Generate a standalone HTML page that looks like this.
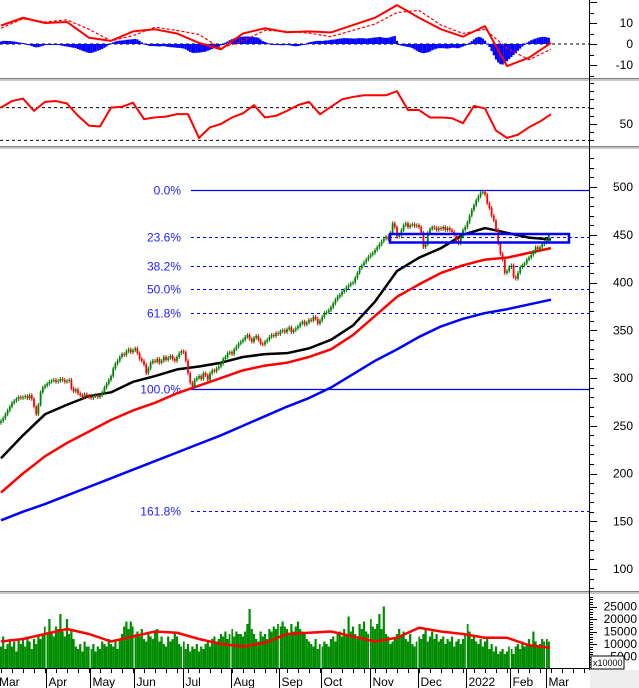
<!DOCTYPE html>
<html><head><meta charset="utf-8"><style>
html,body{margin:0;padding:0;background:#fff;}
svg{display:block;font-family:"Liberation Sans",sans-serif;}
polyline{stroke-linejoin:round;}
</style></head><body>
<svg id="chart" width="639" height="688" viewBox="0 0 639 688" xmlns="http://www.w3.org/2000/svg">
<rect x="0" y="0" width="639" height="688" fill="#fff"/>
<rect x="590" y="670" width="49" height="18" fill="#eeeeee"/>
<g id="grid"></g><g id="marks"></g><g id="axes"></g>
</svg>
<script>
// ---- data ----
const closes = [
255,258,262,266,270,274,276,278,280,279,
280,281,279,282,278,270,262,272,285,290,
292,294,296,297,298,296,297,299,298,296,
297,298,289,286,288,284,282,280,283,281,
280,279,281,282,280,282,285,290,294,298,
302,310,315,318,322,325,324,328,330,327,
329,331,326,320,318,314,305,310,316,318,
317,320,316,318,322,319,321,323,320,318,
322,326,328,327,318,305,295,291,298,300,
302,299,305,303,298,305,308,307,310,312,
315,320,322,326,327,325,330,333,336,338,
340,343,345,341,338,342,344,340,336,335,
338,340,343,345,344,347,346,349,350,348,
351,353,348,350,352,354,357,359,356,358,
361,360,364,362,357,360,364,368,369,371,
374,378,382,385,387,390,392,395,397,399,
400,405,410,415,418,421,424,427,429,431,
434,437,440,443,446,448,445,452,462,458,
448,450,455,460,462,458,460,461,459,460,
458,452,437,440,452,456,458,457,455,457,
456,458,455,457,455,453,450,444,441,448,
455,458,463,470,476,481,486,490,494,495,
492,483,478,470,465,455,441,430,424,410,
412,416,418,406,404,410,416,418,420,424,
426,429,432,437,435,437,440,442,445,450];
const volumes = [
9000,13000,8000,10000,12000,9000,11000,7000,12000,10000,
12000,9000,13000,11000,8000,12000,10000,13000,12000,14000,
17000,14000,20000,15000,13000,17000,16000,22000,15000,13000,
20000,14000,16000,12000,9000,8000,10000,7000,11000,9000,
9000,8000,10000,7000,9000,8000,11000,10000,9000,12000,
10000,9000,11000,8000,12000,14000,17000,19000,16000,19000,
17000,14000,15000,13000,16000,12000,11000,14000,13000,12000,
15000,16000,11000,13000,10000,9000,13000,11000,12000,15000,
13000,10000,9000,11000,8000,10000,7000,9000,8000,10000,
7000,9000,8000,10000,11000,9000,12000,13000,11000,12000,
14000,13000,15000,12000,14000,16000,13000,15000,14000,14000,
13000,15000,18000,24000,16000,14000,12000,11000,15000,13000,
14000,12000,16000,15000,17000,16000,18000,17000,19000,17000,
16000,14000,18000,15000,17000,19000,16000,15000,14000,12000,
11000,10000,9000,12000,8000,10000,9000,11000,10000,9000,
12000,13000,11000,14000,15000,13000,16000,14000,21000,15000,
17000,14000,12000,18000,16000,19000,15000,14000,20000,17000,
16000,18000,22000,16000,25000,14000,13000,10000,11000,12000,
14000,16000,13000,15000,12000,11000,14000,10000,9000,11000,
13000,12000,14000,16000,11000,13000,15000,12000,14000,11000,
12000,13000,10000,12000,11000,13000,9000,11000,12000,10000,
12000,14000,18000,15000,12000,13000,11000,10000,12000,9000,
11000,12000,8000,10000,7000,9000,6000,7000,8000,6000,
7000,9000,8000,6000,9000,10000,8000,11000,9000,10000,
12000,9000,15000,11000,9000,10000,12000,11000,12000,11000];
const hist = [
1.2,1.5,1.5,1.4,1.4,1.3,1.2,1,0.8,0.6,
0.5,0.3,0,-0.6,-1,-1.4,-1.6,-1.5,-1.2,-0.9,
-0.5,-0.3,-0.2,-0.1,-0.3,-0.2,-0.3,-0.6,-0.9,-1.1,
-1.2,-1.4,-1.6,-1.8,-2,-2.4,-2.8,-3.2,-3.6,-4,
-4.2,-4.3,-4,-3.6,-3.2,-2.8,-2.4,-1.8,-1.2,-0.4,
0.3,0.8,1.2,1.5,1.6,1.7,1.8,2,2.1,2.2,
2.3,2.4,2.2,1.5,0.8,0.2,-0.4,-0.8,-1,-1,
-1,-1.1,-1.2,-1.1,-1,-1.2,-1.4,-1.5,-1.6,-1.7,
-1.8,-1.9,-2,-2.2,-2.6,-3.2,-3.8,-4.2,-4.3,-4.2,
-4.1,-4,-3.8,-3.6,-3.2,-2.8,-2.4,-2,-1.6,-1.2,
-0.6,0,0.6,1.2,1.8,2.3,2.7,3,3.2,3.4,
3.5,3.6,3.6,3.5,3.4,3.3,3.2,3,2.2,1.4,
1,0.6,0.3,0,-0.2,-0.4,-0.5,-0.6,-0.6,-0.5,
-0.5,-0.6,-0.8,-1,-1.1,-1,-0.8,-0.4,0,0.4,
0.8,1,1.2,1.4,1.5,1.5,1.4,1.6,1.7,1.8,
2,2.1,2.2,2.4,2.6,2.7,2.8,2.8,2.7,2.7,
2.6,2.6,2.7,2.8,2.8,2.7,2.6,2.7,2.8,3,
3.1,3.2,3.4,3.2,3,2.9,3,3.2,3.6,3.8,
1.5,-0.5,-0.8,-1,-1.2,-1.4,-1.6,-2,-2.6,-3.2,
-3.8,-4.2,-4.4,-4.2,-4,-3.6,-3,-2.6,-2.2,-2,
-2,-2,-2.1,-2.2,-2,-1.8,-1.8,-2,-2,-1.6,
-1.2,-0.8,-0.2,0.6,1.4,2.2,3,3.4,3.2,2.6,
1.6,0.2,-1.4,-3.4,-5.4,-7.4,-8.8,-9.6,-9.8,-9.2,
-8.2,-7.2,-6.2,-5.2,-4.2,-3.2,-2.2,-1.2,-0.2,0.6,
1.2,1.8,2.2,2.6,3,3.2,3.4,3.4,3.2,3];
// sampled every 10 bars
const ma50 = [216,240,262,272,281,285,296,302,309,312,316,322,325,326,331,340,355,380,412,426,436,450,457,452,447,445];
const ma100 = [180,200,218,232,244,256,266,274,284,292,300,308,313,316,322,330,345,365,385,398,410,418,424,426,431,436];
const ma200 = [151,160,168,177,186,195,204,213,222,231,240,250,260,270,279,290,304,318,330,343,354,362,368,372,377,382];
const macdLine = [8.8,12.5,10,10.5,3,1.5,6,7,5,0.5,-2.5,5,7.5,5.6,6,5.5,9,12.5,18.5,12.5,7,3.5,8.5,-10.5,-6.5,0.5];
const signalLine = [7.5,12,10.5,11.5,7,1.5,4,8,6.5,4.5,-2,1.5,6.5,6,5.2,3.5,6.5,9.5,15,16,9,5,7,-2,-7.5,-2.5];
const volMA = [11000,12000,14000,16000,14000,11000,13000,15000,14500,12000,10000,9000,10500,14000,14500,15000,13000,11000,12500,16500,15000,14000,12500,12500,9500,8500];
// sampled every 5 bars
const rsi = [70,78,81,66,77,78,75,60,48,47,70,71,76,56,58,59,62,62,33,46,50,58,63,73,58,60,66,73,77,62,71,80,83,85,85,85,90,67,67,58,58,57,51,72,69,42,33,37,46,53,62];
const fibPct = ["0.0%","23.6%","38.2%","50.0%","61.8%","100.0%","161.8%"];
const fibRatio = [0,0.236,0.382,0.5,0.618,1,1.618];
const fibHigh = 497, fibLow = 289;
const priceTicks = [500,450,400,350,300,250,200,150,100];
const macdTicks = [10,0,-10];
const volTicks = [25000,20000,15000,10000,5000];
const months = ["Mar","Apr","May","Jun","Jul","Aug","Sep","Oct","Nov","Dec","2022","Feb","Mar"];
const monthStartBar = [0,21,41,61,83,105,127,146,168,190,212,232,248];

// ---- scales ----
const xb = i => 1 + i*2.2;
const yP = v => 187 + (500 - v)*0.955;
const yM = v => 44 - v*2.1;
const yR = r => 124 - (r-50)*0.82;
const yV = v => 669 - v*0.0025;
const NS = "http://www.w3.org/2000/svg";
const G = document.getElementById('grid'), M = document.getElementById('marks'), A = document.getElementById('axes');
function mk(parent, tag, attrs){const e=document.createElementNS(NS,tag);for(const k in attrs)e.setAttribute(k,attrs[k]);parent.appendChild(e);return e;}

// separators
[[78,'macd-rsi-separator'],[146,'rsi-price-separator'],[591,'price-volume-separator']].forEach(s=>{
  let r = mk(A,'rect',{x:0,y:s[0],width:639,height:3,fill:'#c8c8c8'});
  
  
  let l = mk(A,'line',{x1:0,x2:639,y1:s[0]+0.5,y2:s[0]+0.5,stroke:'#808080'});
  
  
});

// dashed reference lines
[[yM(0),'macd-zero-line'],[yR(70),'rsi-70-line'],[yR(30),'rsi-30-line']].forEach(d=>{
  let l = mk(G,'line',{x1:0,x2:589,y1:d[0],y2:d[0],stroke:'#000','stroke-dasharray':'3,3'});
  
  
});

// fib levels
fibRatio.forEach((r,k)=>{
  const v = fibHigh - (fibHigh-fibLow)*r;
  const y = Math.round(yP(v))+0.5;
  const solid = (r===0||r===1);
  let l = mk(G,'line',{x1:191,x2:589,y1:y,y2:y,stroke:'#0000ff','stroke-width':solid?1.3:1,'stroke-dasharray':solid?'none':'3,3'});
  
  
  let t = mk(G,'text',{x:181,y:y+4,'text-anchor':'end','font-size':12,fill:'#2222ff'});
  t.textContent = fibPct[k];
  
  
});

// volume bars
volumes.forEach((v,i)=>{
  let r = mk(M,'rect',{x:xb(i)-1.1,y:yV(v),width:2.2,height:669-yV(v),fill:'#008c00'});
  
  
});
monthStartBar.slice(1).forEach((b,k)=>{
  let l = mk(M,'line',{x1:xb(b)-1.1,x2:xb(b)-1.1,y1:594,y2:668,stroke:'#fff','stroke-width':1});
  
  
});
let vma = mk(M,'polyline',{points:volMA.map((v,k)=>Math.min(xb(k*10),550)+','+yV(v)).join(' '),fill:'none',stroke:'#ff0000','stroke-width':2.5});



// MACD histogram
hist.forEach((h,i)=>{
  const y0=yM(0), y1=yM(h);
  let r = mk(M,'rect',{x:xb(i)-1.1,y:Math.min(y0,y1),width:2.2,height:Math.max(1,Math.abs(y1-y0)),fill:'#0000ff'});
  
  
});
let sig = mk(M,'polyline',{points:signalLine.map((v,k)=>xb(k*10)+','+yM(v)).join(' '),fill:'none',stroke:'#ff0000','stroke-width':1.2,'stroke-dasharray':'3,2'});


let mac = mk(M,'polyline',{points:macdLine.map((v,k)=>xb(k*10)+','+yM(v)).join(' '),fill:'none',stroke:'#ff0000','stroke-width':2});



// RSI
let rl = mk(M,'polyline',{points:rsi.map((v,k)=>xb(k*5)+','+yR(v)).join(' '),fill:'none',stroke:'#ff0000','stroke-width':2});



// MAs
[[ma200,'#0000ff','ma200-line'],[ma100,'#ff0000','ma100-line'],[ma50,'#000000','ma50-line']].forEach(m=>{
  let p = mk(M,'polyline',{points:m[0].map((v,k)=>xb(k*10)+','+yP(v)).join(' '),fill:'none',stroke:m[1],'stroke-width':2.5});
  
  
});

// candles
closes.forEach((c,i)=>{
  const o = i>0?closes[i-1]:c-2;
  const up = c>=o;
  const col = up?'#008000':'#ff0000';
  const hi = Math.max(o,c)+2, lo = Math.min(o,c)-2;
  let w = mk(M,'line',{x1:xb(i),x2:xb(i),y1:yP(hi),y2:yP(lo),stroke:col,'stroke-width':1});
  
  
  let b = mk(M,'rect',{x:xb(i)-0.9,y:yP(Math.max(o,c)),width:1.8,height:Math.max(1,Math.abs(yP(o)-yP(c))),fill:col});
  
  
});

// highlight box
let box = mk(M,'rect',{x:390,y:234,width:179,height:8.5,fill:'none',stroke:'#0000ff','stroke-width':2.5});



// right axis
let ax = mk(A,'line',{x1:589.5,x2:589.5,y1:0,y2:670,stroke:'#000'});


for(let v=80; v<=540; v+=10){
  const y=Math.round(yP(v))+0.5; if(y<152||y>589) continue;
  let t = mk(A,'line',{x1:589,x2:v%50===0?597:594,y1:y,y2:y,stroke:'#000'});
  
  
}
priceTicks.forEach(v=>{
  let t = mk(A,'text',{x:633,y:yP(v)+4,'text-anchor':'end','font-size':12,fill:'#000'});
  t.textContent = v;
  
  
});
for(let v=-15; v<=20; v+=5){
  const y=Math.round(yM(v))+0.5; if(y<1||y>77) continue;
  let t = mk(A,'line',{x1:589,x2:v%10===0?597:594,y1:y,y2:y,stroke:'#000'});
  
  
}
macdTicks.forEach(v=>{
  let t = mk(A,'text',{x:633,y:yM(v)+4,'text-anchor':'end','font-size':12,fill:'#000'});
  t.textContent = v;
  
  
});
for(let r=10; r<=110; r+=10){
  const y=Math.round(yR(r))+0.5; if(y<82||y>145) continue;
  let t = mk(A,'line',{x1:589,x2:r===50?597:594,y1:y,y2:y,stroke:'#000'});
  
  
}
let r50 = mk(A,'text',{x:633,y:yR(50)+4,'text-anchor':'end','font-size':12,fill:'#000'});
r50.textContent = '50';


for(let v=1000; v<=29000; v+=1000){
  const y=Math.round(yV(v))+0.5; if(y<596||y>668) continue;
  let t = mk(A,'line',{x1:589,x2:v%5000===0?597:593,y1:y,y2:y,stroke:'#000'});
  
  
}
volTicks.forEach(v=>{
  let t = mk(A,'text',{x:637,y:yV(v)+4,'text-anchor':'end','font-size':12,fill:'#000'});
  t.textContent = v;
  
  
});
let ub = mk(A,'rect',{x:591,y:656,width:33,height:13,fill:'#fff',stroke:'#000'});


let ut = mk(A,'text',{x:593,y:666,'font-size':9,fill:'#000'});
ut.textContent = 'x10000';



// bottom axis
let bx = mk(A,'line',{x1:0,x2:589,y1:668.5,y2:668.5,stroke:'#000'});


for(let i=0;i<=270;i+=5){
  const x=Math.round(xb(i))+0.5; if(x>588) break;
  let t = mk(A,'line',{x1:x,x2:x,y1:668,y2:673,stroke:'#000'});
  
  
}
months.forEach((m,k)=>{
  const x = Math.round(xb(monthStartBar[k])-1.1)+0.5;
  if(k>0){
    let l = mk(A,'line',{x1:x,x2:x,y1:668,y2:688,stroke:'#000'});
    
    
  }
  let t = mk(A,'text',{x:k===0?-1:x+2,y:686,'font-size':12,fill:'#000'});
  t.textContent = m;
  
  
});
</script>
</body></html>
